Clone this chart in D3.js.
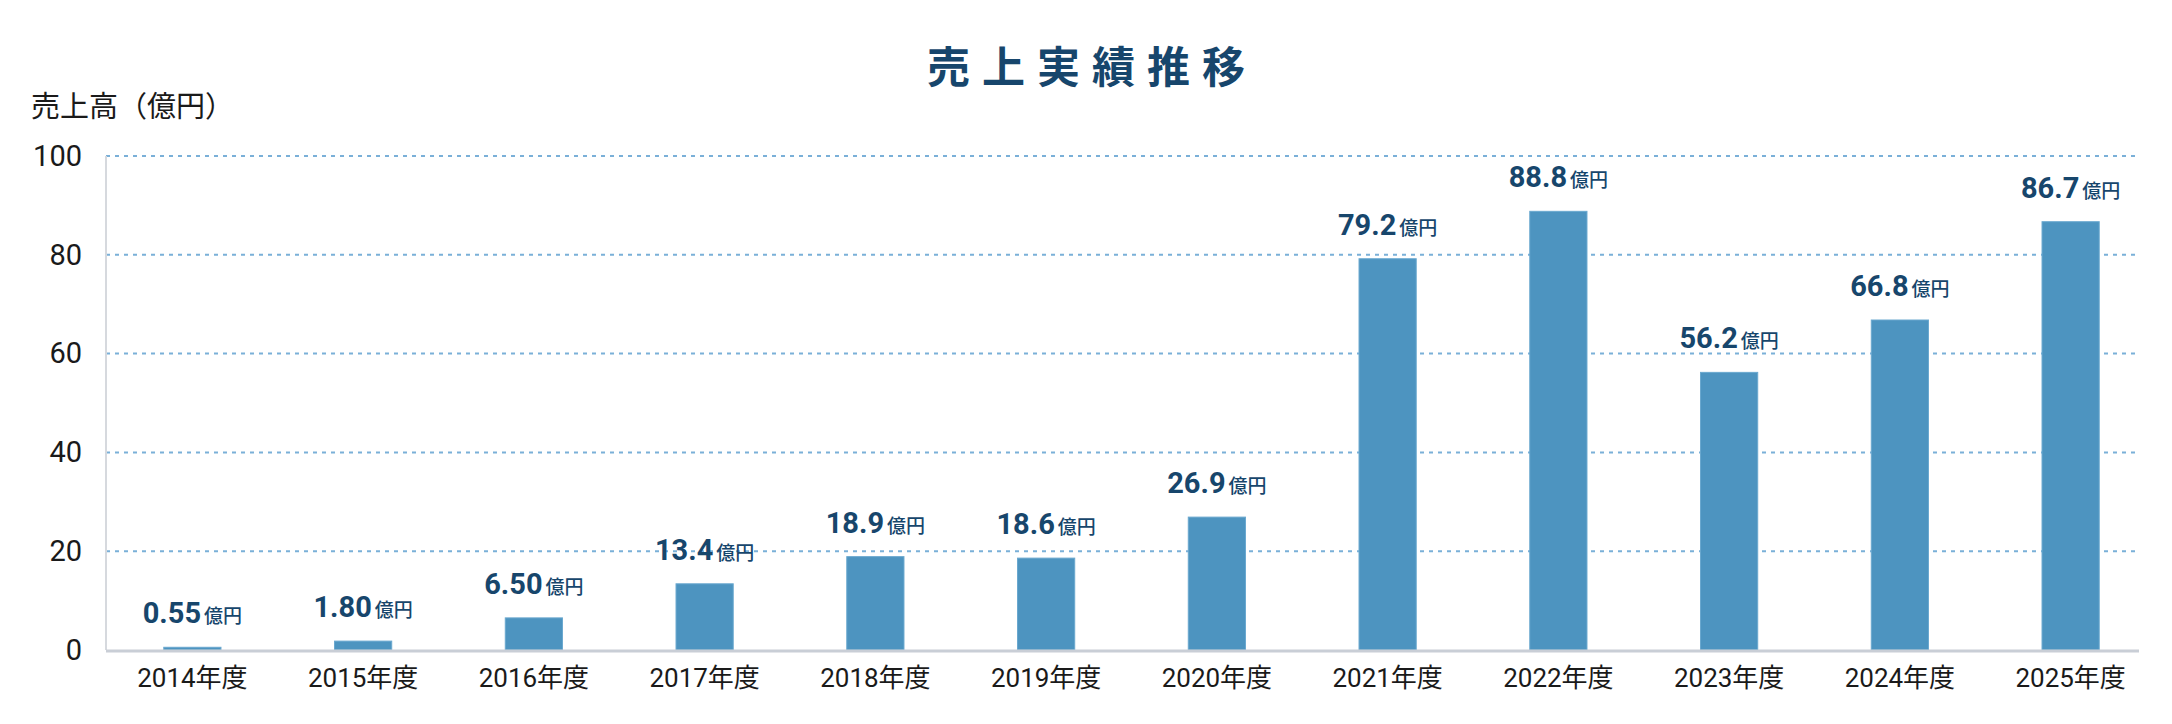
<!DOCTYPE html>
<html lang="ja">
<head>
<meta charset="utf-8">
<script src="https://cdn.jsdelivr.net/npm/d3@7"></script>
<style>
  html, body { margin: 0; padding: 0; background: #fff; }
  svg { display: block; }
  .tick text { font-family: Roboto, 'Noto Sans CJK JP', sans-serif; fill: #1a1a1a; }
</style>
</head>
<body>
<div id="chart"></div>
<script>
// data
const years = ['2014年度', '2015年度', '2016年度', '2017年度', '2018年度', '2019年度',
  '2020年度', '2021年度', '2022年度', '2023年度', '2024年度', '2025年度'];
const sales = [0.55, 1.8, 6.5, 13.4, 18.9, 18.6, 26.9, 79.2, 88.8, 56.2, 66.8, 86.7];
const valueLabels = ['0.55', '1.80', '6.50', '13.4', '18.9', '18.6', '26.9', '79.2', '88.8', '56.2', '66.8', '86.7'];
const yTicks = [0, 20, 40, 60, 80, 100];
const title = '売上実績推移';
const yTitle = '売上高（億円）';
const unit = '億円';

const width = 2172;
const height = 724;

const axisLeft = 106;    // y axis line
const axisRight = 2139;  // end of grid / x axis line
const plotTop = 156;     // y = 100
const plotBottom = 650;  // y = 0

const navy = '#17466c';
const barColor = '#4d94c0';

const svg = d3.select('#chart')
  .append('svg')
  .attr('width', width)
  .attr('height', height);

svg.append('rect').attr('width', width).attr('height', height).attr('fill', '#fff');

const x = d3.scaleBand()
  .domain(years)
  .range([107, 2156])
  .paddingInner(0.665)
  .paddingOuter(0.3325);

const y = d3.scaleLinear()
  .domain([0, 100])
  .range([plotBottom, plotTop]);

// title
svg.append('text')
  .attr('x', width / 2 + 6)
  .attr('y', 64)
  .attr('text-anchor', 'middle')
  .attr('dominant-baseline', 'central')
  .style('font-family', "'Noto Sans CJK JP', sans-serif")
  .style('font-weight', 700)
  .style('font-size', '43px')
  .style('letter-spacing', '12px')
  .attr('fill', navy)
  .text(title);

// y axis title
svg.append('text')
  .attr('x', 31)
  .attr('y', 104)
  .attr('dominant-baseline', 'central')
  .style('font-family', "'Noto Sans CJK JP', sans-serif")
  .style('font-size', '29px')
  .attr('fill', '#1a1a1a')
  .text(yTitle);

// dotted grid lines (not at 0)
svg.append('g')
  .selectAll('line')
  .data(yTicks.filter((d) => d > 0))
  .join('line')
  .attr('x1', axisLeft)
  .attr('x2', axisRight)
  .attr('y1', (d) => y(d))
  .attr('y2', (d) => y(d))
  .attr('stroke', '#7ab0d8')
  .attr('stroke-width', 2)
  .attr('stroke-dasharray', '4,5');

// y axis line
svg.append('line')
  .attr('x1', axisLeft)
  .attr('x2', axisLeft)
  .attr('y1', y(100))
  .attr('y2', y(0))
  .attr('stroke', '#d6d9de')
  .attr('stroke-width', 2);

// y tick labels
const yAxis = svg.append('g')
  .attr('transform', `translate(${axisLeft}, 0)`)
  .call(d3.axisLeft(y).tickValues(yTicks).tickSize(0).tickPadding(24));
yAxis.select('.domain').remove();
yAxis.selectAll('.tick text').style('font-size', '29px');

// bars
svg.append('g')
  .selectAll('rect')
  .data(sales)
  .join('rect')
  .attr('x', (d, i) => x(years[i]))
  .attr('y', (d) => y(d))
  .attr('width', x.bandwidth())
  .attr('height', (d) => y(0) - y(d))
  .attr('fill', barColor)
  .attr('stroke', '#6aa8cf')
  .attr('stroke-width', 1);

// x axis line
svg.append('line')
  .attr('x1', axisLeft)
  .attr('x2', axisRight)
  .attr('y1', y(0) + 1)
  .attr('y2', y(0) + 1)
  .attr('stroke', '#c9ced6')
  .attr('stroke-width', 3);

// x tick labels
const xAxis = svg.append('g')
  .attr('transform', `translate(0, ${y(0)})`)
  .call(d3.axisBottom(x).tickSize(0).tickPadding(19));
xAxis.select('.domain').remove();
xAxis.selectAll('.tick text').style('font-size', '26px');

// value labels
const labels = svg.append('g')
  .selectAll('text')
  .data(sales)
  .join('text')
  .attr('x', (d, i) => x(years[i]) + x.bandwidth() / 2)
  .attr('y', (d) => y(d) - 24)
  .attr('text-anchor', 'middle')
  .attr('fill', navy);

labels.append('tspan')
  .style('font-family', 'Roboto, sans-serif')
  .style('font-weight', 700)
  .style('font-size', '29px')
  .text((d, i) => valueLabels[i]);

labels.append('tspan')
  .attr('dx', 3)
  .style('font-family', "'Noto Sans CJK JP', sans-serif")
  .style('font-weight', 500)
  .style('font-size', '19px')
  .text(unit);
</script>
</body>
</html>
